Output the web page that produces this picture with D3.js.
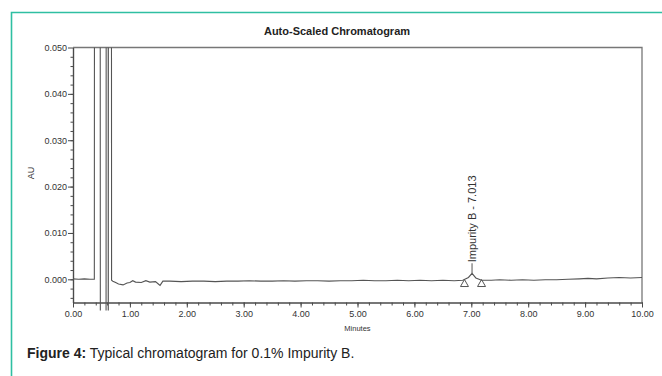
<!DOCTYPE html>
<html>
<head>
<meta charset="utf-8">
<script src="https://cdn.jsdelivr.net/npm/d3@7/dist/d3.min.js"></script>
<style>
  html, body { margin: 0; padding: 0; background: #fff; }
  svg { display: block; font-family: "Liberation Sans", Arial, sans-serif; }
</style>
</head>
<body>
<svg id="chart" width="662" height="376"></svg>
<script>
// Chromatogram trace: retention time (min) and detector response (AU)
const times = [
  0.00, 0.10, 0.20, 0.30, 0.36, 0.375, 0.385, 0.47, 0.482, 0.58, 0.59, 0.615, 0.62, 0.625, 0.668, 0.678,
  0.70, 0.75, 0.80, 0.88, 0.95, 1.00, 1.05, 1.10, 1.20, 1.28, 1.35, 1.45, 1.50, 1.53, 1.58, 1.70,
  1.90, 2.10, 2.30, 2.50, 2.70, 2.90, 3.10, 3.30, 3.50, 3.70, 3.90, 4.10, 4.30, 4.50, 4.70, 4.90,
  5.10, 5.30, 5.50, 5.70, 5.90, 6.10, 6.30, 6.50, 6.70, 6.85, 6.95, 7.013, 7.08, 7.18, 7.35, 7.50,
  7.70, 7.90, 8.10, 8.30, 8.50, 8.70, 8.90, 9.05, 9.20, 9.40, 9.60, 9.80, 10.00
];
const absorbance = [
  0.0001, 0.0000, 0.0001, 0.0000, 0.0000, 0.0000, 0.30, 0.30, -0.05, -0.05, 0.30, 0.30, -0.05, 0.30, 0.30, -0.0002,
  -0.0004, -0.0007, -0.0010, -0.0012, -0.0008, -0.0007, -0.0003, -0.0006, -0.0007, -0.0003, -0.0006, -0.0005, -0.0010, -0.0013, -0.0004, -0.0004,
  -0.0005, -0.0004, -0.0004, -0.0005, -0.0004, -0.0004, -0.0003, -0.0004, -0.0004, -0.0003, -0.0004, -0.0003, -0.0003, -0.0004, -0.0003, -0.0003,
  -0.0002, -0.0003, -0.0003, -0.0002, -0.0003, -0.0002, -0.0003, -0.0002, -0.0003, -0.0002, 0.0004, 0.0013, 0.0003, -0.0002, -0.0002, -0.0001,
  -0.0002, -0.0001, -0.0002, -0.0001, -0.0001, 0.0000, 0.0001, 0.0002, 0.0001, 0.0003, 0.0004, 0.0003, 0.0004
];

// Integration markers (peak start / end) and peak label
const markerTimes = [6.88, 7.18];
const markerLevel = -0.0008;
const peakName = "Impurity B - 7.013";
const peakTime = 7.013;
const peakHeight = 0.0013;

// Axis ticks
const xTicks = [0, 1, 2, 3, 4, 5, 6, 7, 8, 9, 10];
const yTicks = [0.000, 0.010, 0.020, 0.030, 0.040, 0.050];

const svg = d3.select("#chart");

// teal figure frame
svg.append("path")
  .attr("d", "M11.5,376 L11.5,12.5 L662,12.5")
  .attr("fill", "none")
  .attr("stroke", "#2fbfa2")
  .attr("stroke-width", 1.6);

const plotL = 73, plotR = 642, plotT = 47.5, plotB = 302.5;
const x = d3.scaleLinear().domain([0, 10]).range([plotL, plotR]);
const y = d3.scaleLinear().domain([-0.005, 0.05]).range([plotB, plotT]);

const ink = "#4a4a4a";

// title
svg.append("text")
  .attr("x", 337).attr("y", 35)
  .attr("text-anchor", "middle")
  .attr("font-size", 11).attr("font-weight", "bold")
  .attr("fill", "#222")
  .text("Auto-Scaled Chromatogram");

// plot frame (top and right edges)
svg.append("path")
  .attr("d", `M${plotL},${plotT} L${plotR},${plotT} L${plotR},${plotB}`)
  .attr("fill", "none").attr("stroke", "#777").attr("stroke-width", 1.3);

// y axis
svg.append("g").attr("transform", `translate(${plotL},0)`)
  .call(d3.axisLeft(y).tickValues(d3.range(-4, 50, 2).map(v => v / 1000)).tickSize(2.5).tickFormat("").tickSizeOuter(0));
svg.append("g").attr("transform", `translate(${plotL},0)`)
  .call(d3.axisLeft(y).tickValues(yTicks).tickSize(5).tickPadding(1).tickFormat(d3.format(".3f")).tickSizeOuter(0));

// x axis
svg.append("g").attr("transform", `translate(0,${plotB})`)
  .call(d3.axisBottom(x).tickValues(d3.range(0, 51).map(v => v / 5)).tickSize(3).tickFormat("").tickSizeOuter(0));
svg.append("g").attr("transform", `translate(0,${plotB})`)
  .call(d3.axisBottom(x).tickValues(xTicks).tickSize(5).tickPadding(3).tickFormat(d3.format(".2f")).tickSizeOuter(0));

svg.selectAll(".domain").attr("stroke", ink).attr("stroke-width", 1.2);
svg.selectAll(".tick line").attr("stroke", ink).attr("stroke-width", 1);
svg.selectAll(".tick text").attr("fill", "#333").attr("font-size", 9).attr("font-family", "'Liberation Sans', Arial, sans-serif");

// axis titles
svg.append("text")
  .attr("transform", `translate(34,${(plotT + plotB) / 2 - 2}) rotate(-90)`)
  .attr("text-anchor", "middle")
  .attr("font-size", 9).attr("fill", "#333")
  .text("AU");
svg.append("text")
  .attr("x", (plotL + plotR) / 2).attr("y", 331)
  .attr("text-anchor", "middle")
  .attr("font-size", 7.5).attr("fill", "#333")
  .text("Minutes");

// trace, clipped to the plot area
svg.append("clipPath").attr("id", "plotClip")
  .append("rect").attr("x", plotL).attr("y", plotT).attr("width", plotR - plotL).attr("height", plotB - plotT + 8);

const trace = times.map((t, i) => [t, absorbance[i]]);
svg.append("path")
  .datum(trace)
  .attr("clip-path", "url(#plotClip)")
  .attr("fill", "none")
  .attr("stroke", "#555")
  .attr("stroke-width", 1.1)
  .attr("d", d3.line().x(d => x(d[0])).y(d => y(d[1])));

// peak start/end markers
svg.selectAll(".marker")
  .data(markerTimes)
  .join("path")
  .attr("class", "marker")
  .attr("fill", "none").attr("stroke", "#555").attr("stroke-width", 1)
  .attr("d", d => {
    const cx = x(d), cy = y(markerLevel);
    return `M${cx - 4},${cy + 3.5} L${cx},${cy - 3.5} L${cx + 4},${cy + 3.5} Z`;
  });

// peak label with leader line
const px = x(peakTime), py = y(peakHeight);
svg.append("line")
  .attr("x1", px).attr("x2", px)
  .attr("y1", py).attr("y2", py - 10)
  .attr("stroke", "#555").attr("stroke-width", 1);
svg.append("text")
  .attr("transform", `translate(${px + 4},${py - 11}) rotate(-90)`)
  .attr("font-size", 11).attr("fill", "#333")
  .text(peakName);

// caption
const cap = svg.append("text").attr("x", 27).attr("y", 358).attr("font-size", 14).attr("fill", "#222");
cap.append("tspan").attr("font-weight", "bold").text("Figure 4:");
cap.append("tspan").text(" Typical chromatogram for 0.1% Impurity B.");
</script>
</body>
</html>
